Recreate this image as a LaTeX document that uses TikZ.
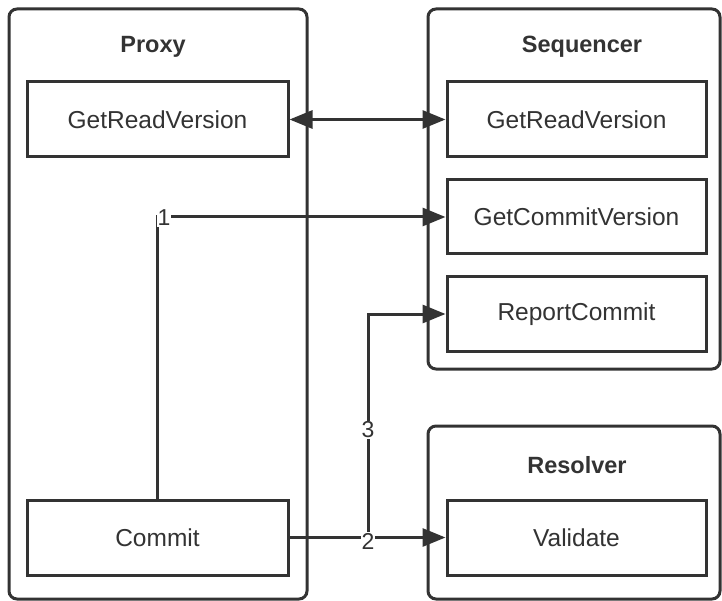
\documentclass[tikz,border=0pt]{standalone}
\usepackage{fontspec}
\setmainfont{Liberation Sans}
\usetikzlibrary{arrows.meta}
\definecolor{ink}{HTML}{333333}
\begin{document}
\begin{tikzpicture}[x=1pt,y=-1pt,
  container/.style={draw=ink, line width=3pt, rounded corners=8pt, inner sep=0pt},
  unitbox/.style={draw=ink, line width=3pt, inner sep=0pt, text=ink, font=\fontsize{24.5}{28}\selectfont},
  title/.style={text=ink, font=\fontsize{23.5}{27}\selectfont\bfseries},
  link/.style={draw=ink, line width=3pt, -{Triangle[length=23pt,width=18pt]}},
  biglink/.style={draw=ink, line width=3pt, {Triangle[length=23pt,width=18pt]}-{Triangle[length=23pt,width=18pt]}},
  lbl/.style={fill=white, text=ink, inner sep=1pt, font=\fontsize{23}{26}\selectfont}]
  \useasboundingbox[fill=white] (0,0) rectangle (722,601);

  % outer components
  \node[container, minimum width=298pt, minimum height=590pt] (proxy) at (158,304) {};
  \node[container, minimum width=292pt, minimum height=360pt] (seq) at (574,189) {};
  \node[container, minimum width=292pt, minimum height=173pt] (res) at (574,512.5) {};

  \node[title] (tproxy) at (153,47) {Proxy};
  \node[title] (tseq) at (582,47) {Sequencer};
  \node[title] (tres) at (577,465) {Resolver};

  % operations
  \node[unitbox, minimum width=261pt, minimum height=75pt] (pgrv) at (157.5,119.5) {GetReadVersion};
  \node[unitbox, minimum width=261pt, minimum height=75pt] (commit) at (157.5,537.5) {Commit};
  \node[unitbox, minimum width=259pt, minimum height=75pt] (sgrv) at (576.5,119.5) {GetReadVersion};
  \node[unitbox, minimum width=259pt, minimum height=74pt] (sgcv) at (576.5,217) {GetCommitVersion};
  \node[unitbox, minimum width=259pt, minimum height=74pt] (src) at (576.5,314) {ReportCommit};
  \node[unitbox, minimum width=259pt, minimum height=75pt] (val) at (576.5,537.5) {Validate};

  % message flow
  \draw[biglink] (pgrv) -- (sgrv);
  \draw[link] (commit.north) |- (sgcv);
  \draw[link] (commit) -- (val);
  \coordinate (fork) at (368,537.5);
  \draw[link] (commit.east) -- (fork) |- (src);

  \node[lbl] (l1) at (164,218) {1};
  \node[lbl] (l2) at (368,541) {2};
  \node[lbl] (l3) at (368,430) {3};
\end{tikzpicture}
\end{document}
